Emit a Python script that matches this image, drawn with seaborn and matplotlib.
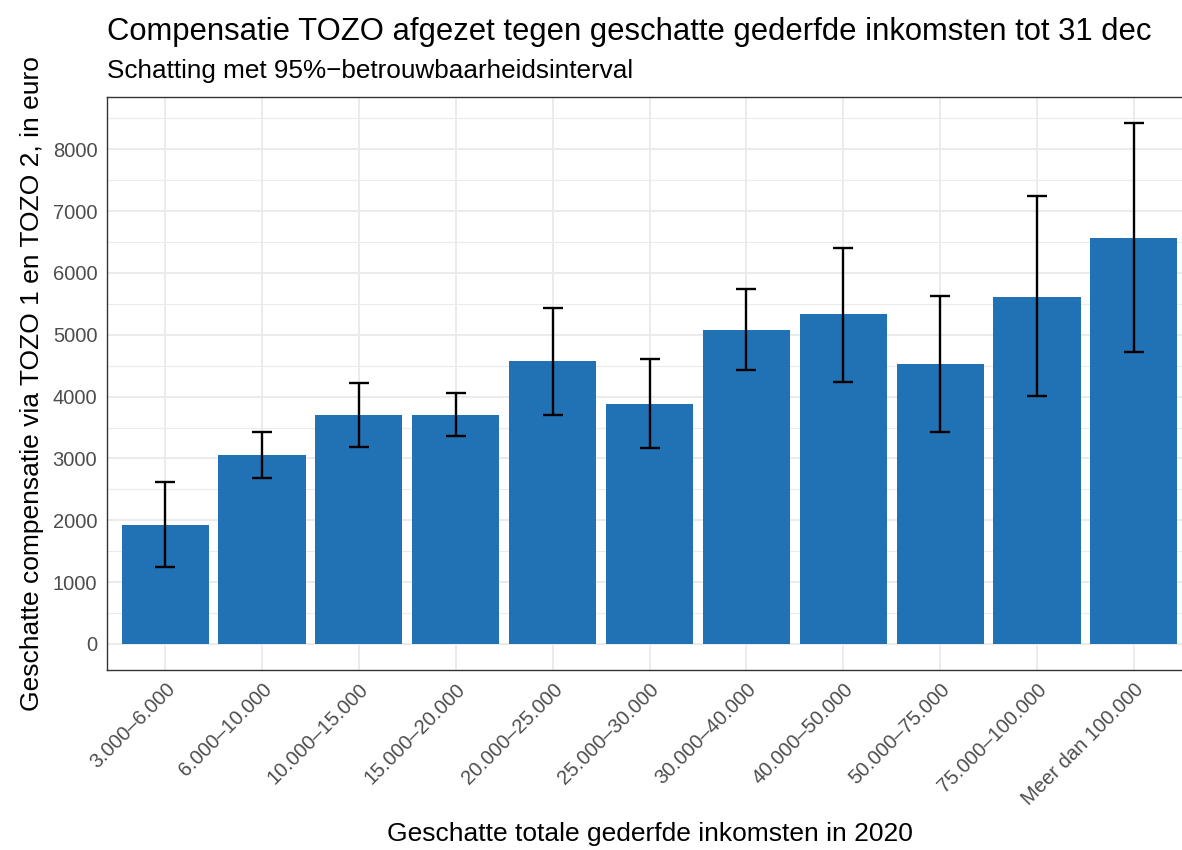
import seaborn as sns
import matplotlib.pyplot as plt
import pandas as pd
import numpy as np

# Data
categorieen = ["3.000–6.000", "6.000–10.000", "10.000–15.000", "15.000–20.000",
               "20.000–25.000", "25.000–30.000", "30.000–40.000", "40.000–50.000",
               "50.000–75.000", "75.000–100.000", "Meer dan 100.000"]
schatting = [1931, 3049, 3707, 3707, 4568, 3886, 5082, 5333, 4520, 5614, 6571]
ondergrens = [1238, 2685, 3193, 3360, 3695, 3169, 4436, 4239, 3426, 4006, 4723]
bovengrens = [2619, 3426, 4227, 4060, 5429, 4610, 5746, 6410, 5620, 7247, 8424]

df = pd.DataFrame({"cat": categorieen, "waarde": schatting,
                   "lo": ondergrens, "hi": bovengrens})

sns.set_theme(style="whitegrid")
plt.rcParams["font.family"] = ["Liberation Sans", "DejaVu Sans"]

fig = plt.figure(figsize=(11.82, 8.5), dpi=100)
ax = fig.add_axes([107 / 1182, 1 - 670 / 850, 1085 / 1182, 573 / 850])

sns.barplot(data=df, x="cat", y="waarde", color="#2171B5", saturation=1,
            width=0.9, errorbar=None, linewidth=0, ax=ax, zorder=2)

pos = np.arange(len(df))
ax.errorbar(pos, df["waarde"],
            yerr=[df["waarde"] - df["lo"], df["hi"] - df["waarde"]],
            fmt="none", ecolor="black", elinewidth=1.7, capsize=7.5,
            capthick=1.7, zorder=3)

# assen en rasters in ggplot theme_bw stijl
ax.set_xlim(-0.6, len(df) - 0.4)
ymax = max(bovengrens)
ax.set_ylim(-0.05 * ymax, 1.05 * ymax)
ax.set_yticks(np.arange(0, 9000, 1000))
ax.set_yticks(np.arange(500, 9000, 1000), minor=True)
ax.set_facecolor("white")
ax.grid(True, which="major", color="#EBEBEB", linewidth=1.4, zorder=0)
ax.grid(True, which="minor", axis="y", color="#EBEBEB", linewidth=0.8, zorder=0)
ax.set_axisbelow(True)
for s in ax.spines.values():
    s.set_color("#333333")
    s.set_linewidth(1.0)

ax.tick_params(axis="both", which="major", length=4, width=1, color="#333333",
               labelsize=14.5, labelcolor="#4D4D4D", pad=3)
ax.tick_params(axis="y", which="minor", length=0)
plt.setp(ax.get_xticklabels(), rotation=45, ha="right", va="top",
         rotation_mode="anchor")

ax.set_xlabel("Geschatte totale gederfde inkomsten in 2020", fontsize=19,
              labelpad=10, color="black")
ax.set_ylabel("Geschatte compensatie via TOZO 1 en TOZO 2, in euro",
              fontsize=19, labelpad=6, color="black")

fig.text(107 / 1182, 1 - 32 / 850,
         "Compensatie TOZO afgezet tegen geschatte gederfde inkomsten tot 31 dec",
         fontsize=22.3, ha="left", va="center", color="black")
fig.text(107 / 1182, 1 - 71 / 850, "Schatting met 95%−betrouwbaarheidsinterval",
         fontsize=18.8, ha="left", va="center", color="black")

fig.savefig("out.png", dpi=100, facecolor="white")
